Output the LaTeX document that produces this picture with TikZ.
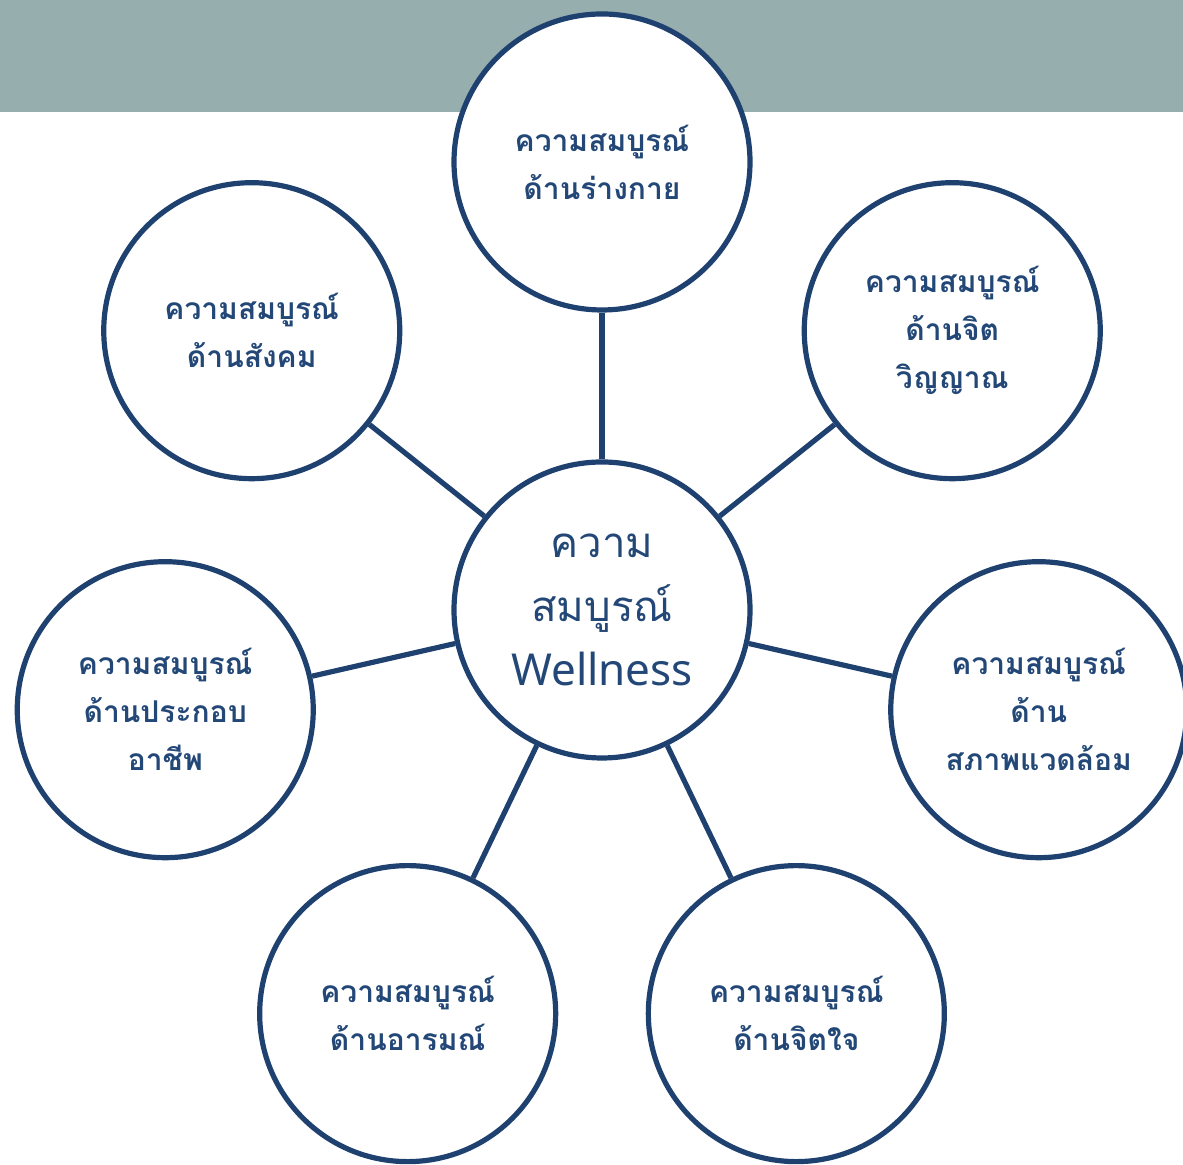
\documentclass[tikz,border=0pt]{standalone}
\usepackage{fontspec}
\setmainfont{Noto Sans}
\newfontfamily\thaifont[Script=Thai]{Loma}
\usetikzlibrary{positioning,calc}
\definecolor{band}{HTML}{97AEAF}
\definecolor{rim}{HTML}{1F4170}
\definecolor{ink}{HTML}{234877}
\tikzset{
  aspect/.style={circle,draw=rim,line width=2.6pt,fill=white,minimum size=148pt,inner sep=0pt,align=center,
    font=\thaifont\bfseries\fontsize{15}{24}\selectfont,text=ink},
  hubcircle/.style={aspect,font=\thaifont\fontsize{21}{32}\selectfont},
  spoke/.style={draw=rim,line width=2.6pt},
}

\begin{document}
\begin{tikzpicture}[x=0.5pt,y=0.5pt]
\useasboundingbox (0,0) rectangle (1183,1165);
\fill[band] (0,1053) rectangle (1183,1165);

\node[hubcircle] (hub) at (602,555) {ความ\\สมบูรณ์\\{\normalfont\fontsize{22}{32}\selectfont Wellness}};

% seven aspects round the hub, clockwise from the top
\node[aspect] (body) at ($(hub)+(90:448)$) {ความสมบูรณ์\\ด้านร่างกาย};
\node[aspect] (spirit) at ($(hub)+(38.57:448)$) {ความสมบูรณ์\\ด้านจิต\\วิญญาณ};
\node[aspect] (env) at ($(hub)+(-12.86:448)$) {ความสมบูรณ์\\ด้าน\\สภาพแวดล้อม};
\node[aspect] (mind) at ($(hub)+(-64.29:448)$) {ความสมบูรณ์\\ด้านจิตใจ};
\node[aspect] (emotion) at ($(hub)+(-115.71:448)$) {ความสมบูรณ์\\ด้านอารมณ์};
\node[aspect] (career) at ($(hub)+(-167.14:448)$) {ความสมบูรณ์\\ด้านประกอบ\\อาชีพ};
\node[aspect] (social) at ($(hub)+(141.43:448)$) {ความสมบูรณ์\\ด้านสังคม};

\draw[spoke] (hub) -- (body);
\draw[spoke] (hub) -- (spirit);
\draw[spoke] (hub) -- (env);
\draw[spoke] (hub) -- (mind);
\draw[spoke] (hub) -- (emotion);
\draw[spoke] (hub) -- (career);
\draw[spoke] (hub) -- (social);

\end{tikzpicture}
\end{document}
